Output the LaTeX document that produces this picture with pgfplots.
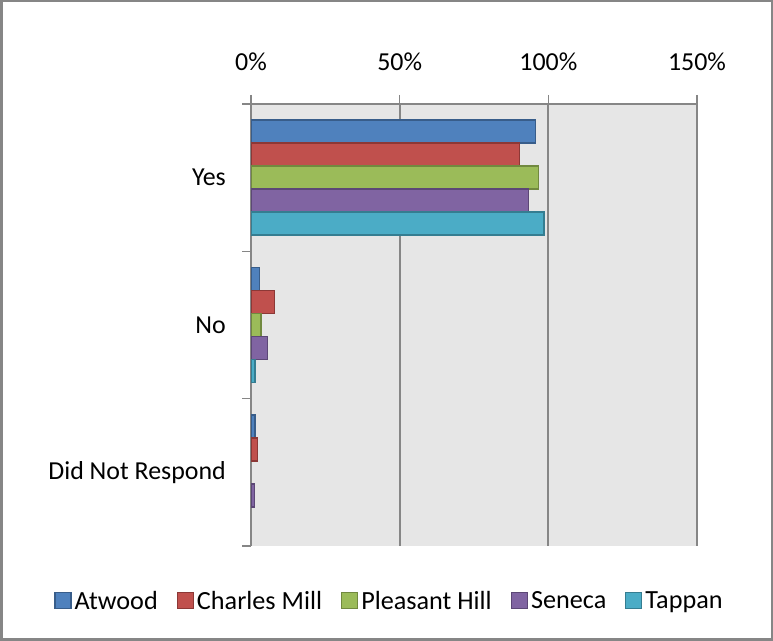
\documentclass[border=0pt]{standalone}
\usepackage{pgfplots}
\pgfplotsset{compat=1.18}
\usepackage{fontspec}
\setmainfont{Carlito}
\definecolor{cA}{HTML}{4F81BD}\definecolor{dA}{HTML}{385D8A}
\definecolor{cB}{HTML}{C0504D}\definecolor{dB}{HTML}{8C3836}
\definecolor{cC}{HTML}{9BBB59}\definecolor{dC}{HTML}{71893F}
\definecolor{cD}{HTML}{8064A2}\definecolor{dD}{HTML}{5C4776}
\definecolor{cE}{HTML}{4BACC6}\definecolor{dE}{HTML}{357D91}
\definecolor{axgray}{HTML}{868686}
\definecolor{bggray}{HTML}{E6E6E6}
\begin{document}
\begin{tikzpicture}[x=1bp,y=1bp]
\useasboundingbox (0,0) rectangle (773,641);
\draw[axgray,line width=2.5bp] (1.25,1.25) rectangle (771.75,639.75);
\begin{axis}[
  at={(251bp,95bp)}, anchor=south west,
  width=446bp, height=442bp, scale only axis,
  xbar=0pt, bar width=23bp,
  every axis plot post/.append style={legend image code/.code={\draw[#1,line width=1.2bp] (0bp,-8bp) rectangle (16bp,8bp);}},
  xmin=0, xmax=150, ymin=-0.5, ymax=2.5,
  axis x line*=top, axis y line*=left,
  axis line style={axgray,line width=1.6bp},
  axis background/.style={fill=bggray},
  xtick={0,50,100,150},
  xticklabels={0\%,50\%,100\%,150\%},
  xmajorgrids, grid style={axgray,line width=1.8bp},
  ytick={-0.5,0.5,1.5,2.5},
  yticklabels={},
  extra y ticks={0,1,2},
  extra y tick labels={Did Not Respond,No,Yes},
  extra y tick style={tick style={draw=none}, grid=none},
  tick align=outside,
  major tick length=9bp,
  tick style={axgray,line width=1.6bp},
  tick label style={font=\fontsize{26}{30}\selectfont, text=black},
  yticklabel style={inner sep=0pt, xshift=-16bp},
  xticklabel style={inner sep=0pt, anchor=base, yshift=24bp},
  legend style={at={(0.3117,-0.124)}, anchor=center, draw=none, fill=none,
    legend columns=-1, font=\fontsize{26.3}{30}\selectfont,
    nodes={inner xsep=3bp},
    /tikz/every even column/.append style={column sep=16bp}},
]
\addplot[fill=cA, draw=dA, line width=1.4bp, bar shift=46bp] coordinates {(95.7,2) (2.8,1) (1.4,0)};
\addplot[fill=cB, draw=dB, line width=1.4bp, bar shift=23bp] coordinates {(90.2,2) (7.9,1) (2.1,0)};
\addplot[fill=cC, draw=dC, line width=1.4bp, bar shift=0bp] coordinates {(96.6,2) (3.4,1)};
\addplot[fill=cD, draw=dD, line width=1.4bp, bar shift=-23bp] coordinates {(93.3,2) (5.5,1) (1.1,0)};
\addplot[fill=cE, draw=dE, line width=1.4bp, bar shift=-46bp] coordinates {(98.5,2) (1.3,1)};
\legend{Atwood,Charles Mill,Pleasant Hill,Seneca,Tappan}
\end{axis}
\end{tikzpicture}
\end{document}
